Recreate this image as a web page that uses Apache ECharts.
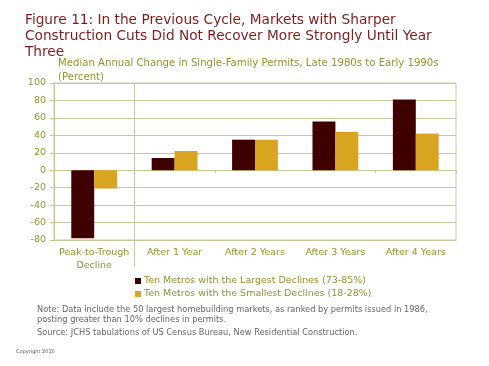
<!DOCTYPE html>
<html><head><meta charset="utf-8">
<script src="https://cdn.jsdelivr.net/npm/echarts@6/dist/echarts.min.js"></script>
<style>html,body{margin:0;padding:0;background:#fff}#c{width:489px;height:366px}</style>
</head><body><div id="c"></div>
<script>
const categories = ['Peak-to-Trough\nDecline', 'After 1 Year', 'After 2 Years', 'After 3 Years', 'After 4 Years'];
const seriesNames = ['Ten Metros with the Largest Declines (73-85%)', 'Ten Metros with the Smallest Declines (18-28%)'];
const largestDeclines = [-78, 14, 35, 56, 81];
const smallestDeclines = [-21, 22, 35, 44, 42];
const yMin = -80, yMax = 100, yStep = 20;
// category boundaries (n+1 slots) used only for the separator line after the first group
const boundarySlots = ['', '', '', '', '', ''];
const separatorAfter = 1;

const FONT = 'DejaVu Sans';
const OLIVE = '#939330';
const GRIDC = '#c9c79a';
const chart = echarts.init(document.getElementById('c'), null, {renderer: 'canvas'});
chart.setOption({
  animation: false,
  backgroundColor: '#fff',
  textStyle: {fontFamily: FONT},
  title: [
    {text: 'Figure 11: In the Previous Cycle, Markets with Sharper\nConstruction Cuts Did Not Recover More Strongly Until Year\nThree',
     left: 25, top: 12, padding: 0, textStyle: {fontFamily: FONT, fontSize: 13.7, fontWeight: 'normal', color: '#7e1c1c', lineHeight: 16}},
    {text: 'Median Annual Change in Single-Family Permits, Late 1980s to Early 1990s\n(Percent)',
     left: 58, top: 57, padding: 0, textStyle: {fontFamily: FONT, fontSize: 10.15, fontWeight: 'normal', color: OLIVE, lineHeight: 13.5}},
    {text: 'Note: Data include the 50 largest homebuilding markets, as ranked by permits issued in 1986,\nposting greater than 10% declines in permits.',
     left: 37, top: 305, padding: 0, textStyle: {fontFamily: FONT, fontSize: 8.25, fontWeight: 'normal', color: '#666', lineHeight: 10}},
    {text: 'Source: JCHS tabulations of US Census Bureau, New Residential Construction.',
     left: 37, top: 329, padding: 0, textStyle: {fontFamily: FONT, fontSize: 8.25, fontWeight: 'normal', color: '#666'}},
    {text: 'Copyright 2010',
     left: 16, top: 349, padding: 0, textStyle: {fontFamily: FONT, fontSize: 5, fontWeight: 'normal', color: '#555'}}
  ],
  legend: {
    orient: 'vertical', left: 135, top: 276, padding: 0, itemWidth: 6, itemHeight: 6, itemGap: 3,
    icon: 'rect', data: seriesNames,
    textStyle: {fontFamily: FONT, fontSize: 9.5, color: OLIVE, padding: [0, 0, 0, -2]}
  },
  grid: {left: 54, right: 33, top: 83, bottom: 126, show: true, borderColor: GRIDC, borderWidth: 1, backgroundColor: 'transparent'},
  xAxis: [
    {type: 'category', data: categories, position: 'bottom',
     axisLine: {onZero: true, lineStyle: {color: GRIDC}},
     axisTick: {show: true, length: 3, lineStyle: {color: GRIDC}},
     axisLabel: {show: false}, splitLine: {show: false}},
    {type: 'category', data: categories, position: 'bottom',
     axisLine: {onZero: false, show: true, lineStyle: {color: GRIDC}},
     axisTick: {show: false},
     splitLine: {show: false},
     axisLabel: {fontFamily: FONT, fontSize: 9.5, color: OLIVE, margin: 6, lineHeight: 13, interval: 0}},
    {type: 'category', data: boundarySlots, position: 'bottom', boundaryGap: false,
     axisLine: {onZero: false, show: false},
     axisTick: {show: true, length: 27, interval: (i) => i === separatorAfter, lineStyle: {color: GRIDC}},
     splitLine: {show: true, interval: (i) => i === separatorAfter, lineStyle: {color: GRIDC}},
     axisLabel: {show: false}}
  ],
  yAxis: {
    type: 'value', min: yMin, max: yMax, interval: yStep,
    axisLine: {show: true, lineStyle: {color: GRIDC}},
    axisTick: {show: true, length: 4, lineStyle: {color: GRIDC}},
    axisLabel: {fontFamily: FONT, fontSize: 9.5, color: OLIVE, margin: 8},
    splitLine: {show: true, lineStyle: {color: GRIDC}}
  },
  series: [
    {name: seriesNames[0], type: 'bar', data: largestDeclines, xAxisIndex: 0, barGap: '0%', barCategoryGap: '43%', itemStyle: {color: '#3f0000'}},
    {name: seriesNames[1], type: 'bar', data: smallestDeclines, xAxisIndex: 0, barGap: '0%', barCategoryGap: '43%', itemStyle: {color: '#d9a520'}}
  ]
});
</script></body></html>
